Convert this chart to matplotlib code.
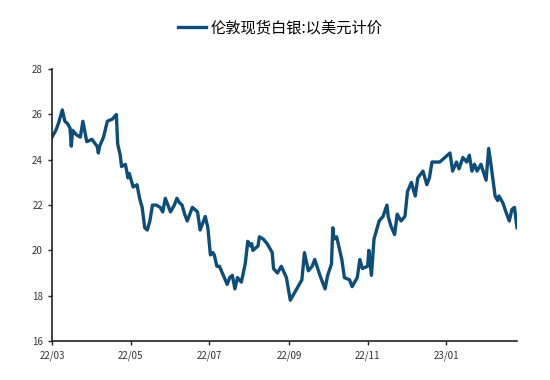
import matplotlib
matplotlib.use('Agg')
import matplotlib.pyplot as plt
import matplotlib.dates as mdates
import pandas as pd

plt.rcParams['font.family'] = ['Noto Sans CJK SC', 'DejaVu Sans']

# days after 2022-03-01 and price (USD/oz)
days = [0, 1, 3, 5, 8, 10, 12, 14, 15, 16, 19, 22, 24, 27, 31, 35, 36, 37, 40, 43,
        47, 50, 51, 53, 54, 57, 59, 60, 63, 66, 68, 70, 72, 74, 76, 78, 81, 84, 86, 88,
        92, 95, 97, 99, 101, 103, 105, 107, 109, 113, 115, 117, 119, 121, 123, 125, 126, 128, 130, 133,
        136, 138, 140, 142, 144, 147, 150, 152, 154, 155, 156, 160, 161, 164, 167, 169, 171, 172, 175, 178,
        182, 185, 187, 191, 194, 196, 199, 202, 204, 208, 212, 214, 217, 218, 219, 221, 223, 225, 227, 231,
        233, 237, 239, 241, 245, 246, 248, 250, 254, 257, 260, 261, 263, 266, 268, 271, 274, 276, 279, 282,
        284, 288, 291, 293, 295, 301, 305, 309, 311, 314, 316, 319, 322, 324, 326, 328, 330, 333, 337, 339,
        341, 344, 346, 347, 350, 353, 355, 357, 359, 361]
price = [25.0, 25.1, 25.3, 25.6, 26.2, 25.7, 25.6, 25.4, 24.6, 25.3, 25.1, 25.0, 25.7, 24.8, 24.9, 24.6, 24.3, 24.6, 25.0, 25.7,
         25.8, 26.0, 24.7, 24.2, 23.7, 23.8, 23.2, 23.4, 22.8, 22.9, 22.3, 21.9, 21.0, 20.9, 21.3, 22.0, 22.0, 21.9, 21.7, 22.3,
         21.7, 22.0, 22.3, 22.1, 22.0, 21.6, 21.3, 21.6, 21.9, 21.7, 20.9, 21.2, 21.5, 21.0, 19.8, 19.9, 19.8, 19.3, 19.3, 18.9,
         18.5, 18.8, 18.9, 18.3, 18.8, 18.6, 19.4, 20.4, 20.2, 20.3, 20.0, 20.2, 20.6, 20.5, 20.3, 20.1, 19.9, 19.2, 19.0, 19.3,
         18.8, 17.8, 18.0, 18.4, 18.7, 19.9, 19.1, 19.3, 19.6, 18.9, 18.3, 18.9, 19.4, 21.0, 20.5, 20.6, 20.1, 19.6, 18.8, 18.7,
         18.4, 18.8, 19.6, 19.2, 19.3, 20.0, 18.9, 20.5, 21.3, 21.5, 22.0, 21.5, 21.1, 20.7, 21.6, 21.3, 21.5, 22.6, 23.0, 22.4,
         23.2, 23.5, 22.9, 23.2, 23.9, 23.9, 24.1, 24.3, 23.5, 23.9, 23.6, 24.1, 23.9, 24.2, 23.5, 23.8, 23.5, 23.8, 23.1, 24.5,
         23.7, 22.4, 22.2, 22.4, 22.1, 21.6, 21.3, 21.8, 21.9, 21.0]

dates = pd.Timestamp('2022-03-01') + pd.to_timedelta(days, unit='D')

fig = plt.figure(figsize=(5.5, 3.8), dpi=100)
ax = fig.add_axes([0.0945, 0.1026, 0.8455, 0.7154])

ax.plot(dates, price, color='#0d4d7a', lw=2.4, label='伦敦现货白银:以美元计价')

ax.set_ylim(16, 28)
ax.set_yticks(range(16, 29, 2))
ax.set_xlim(pd.Timestamp('2022-03-01'), pd.Timestamp('2023-02-25'))
ax.set_xticks(pd.date_range('2022-03-01', '2023-01-01', freq='2MS'))
ax.xaxis.set_major_formatter(mdates.DateFormatter('%y/%m'))

for s in ['top', 'right']:
    ax.spines[s].set_visible(False)
for s in ['left', 'bottom']:
    ax.spines[s].set_color('#222222')
    ax.spines[s].set_linewidth(1.2)
ax.tick_params(axis='both', direction='out', length=3, width=1, colors='#222222',
               labelsize=7, labelcolor='#333333')

fig.legend(loc='center', bbox_to_anchor=(0.51, 0.926), frameon=False,
           fontsize=11, handlelength=1.8, handletextpad=0.3)

fig.savefig('out.png', dpi=100)
